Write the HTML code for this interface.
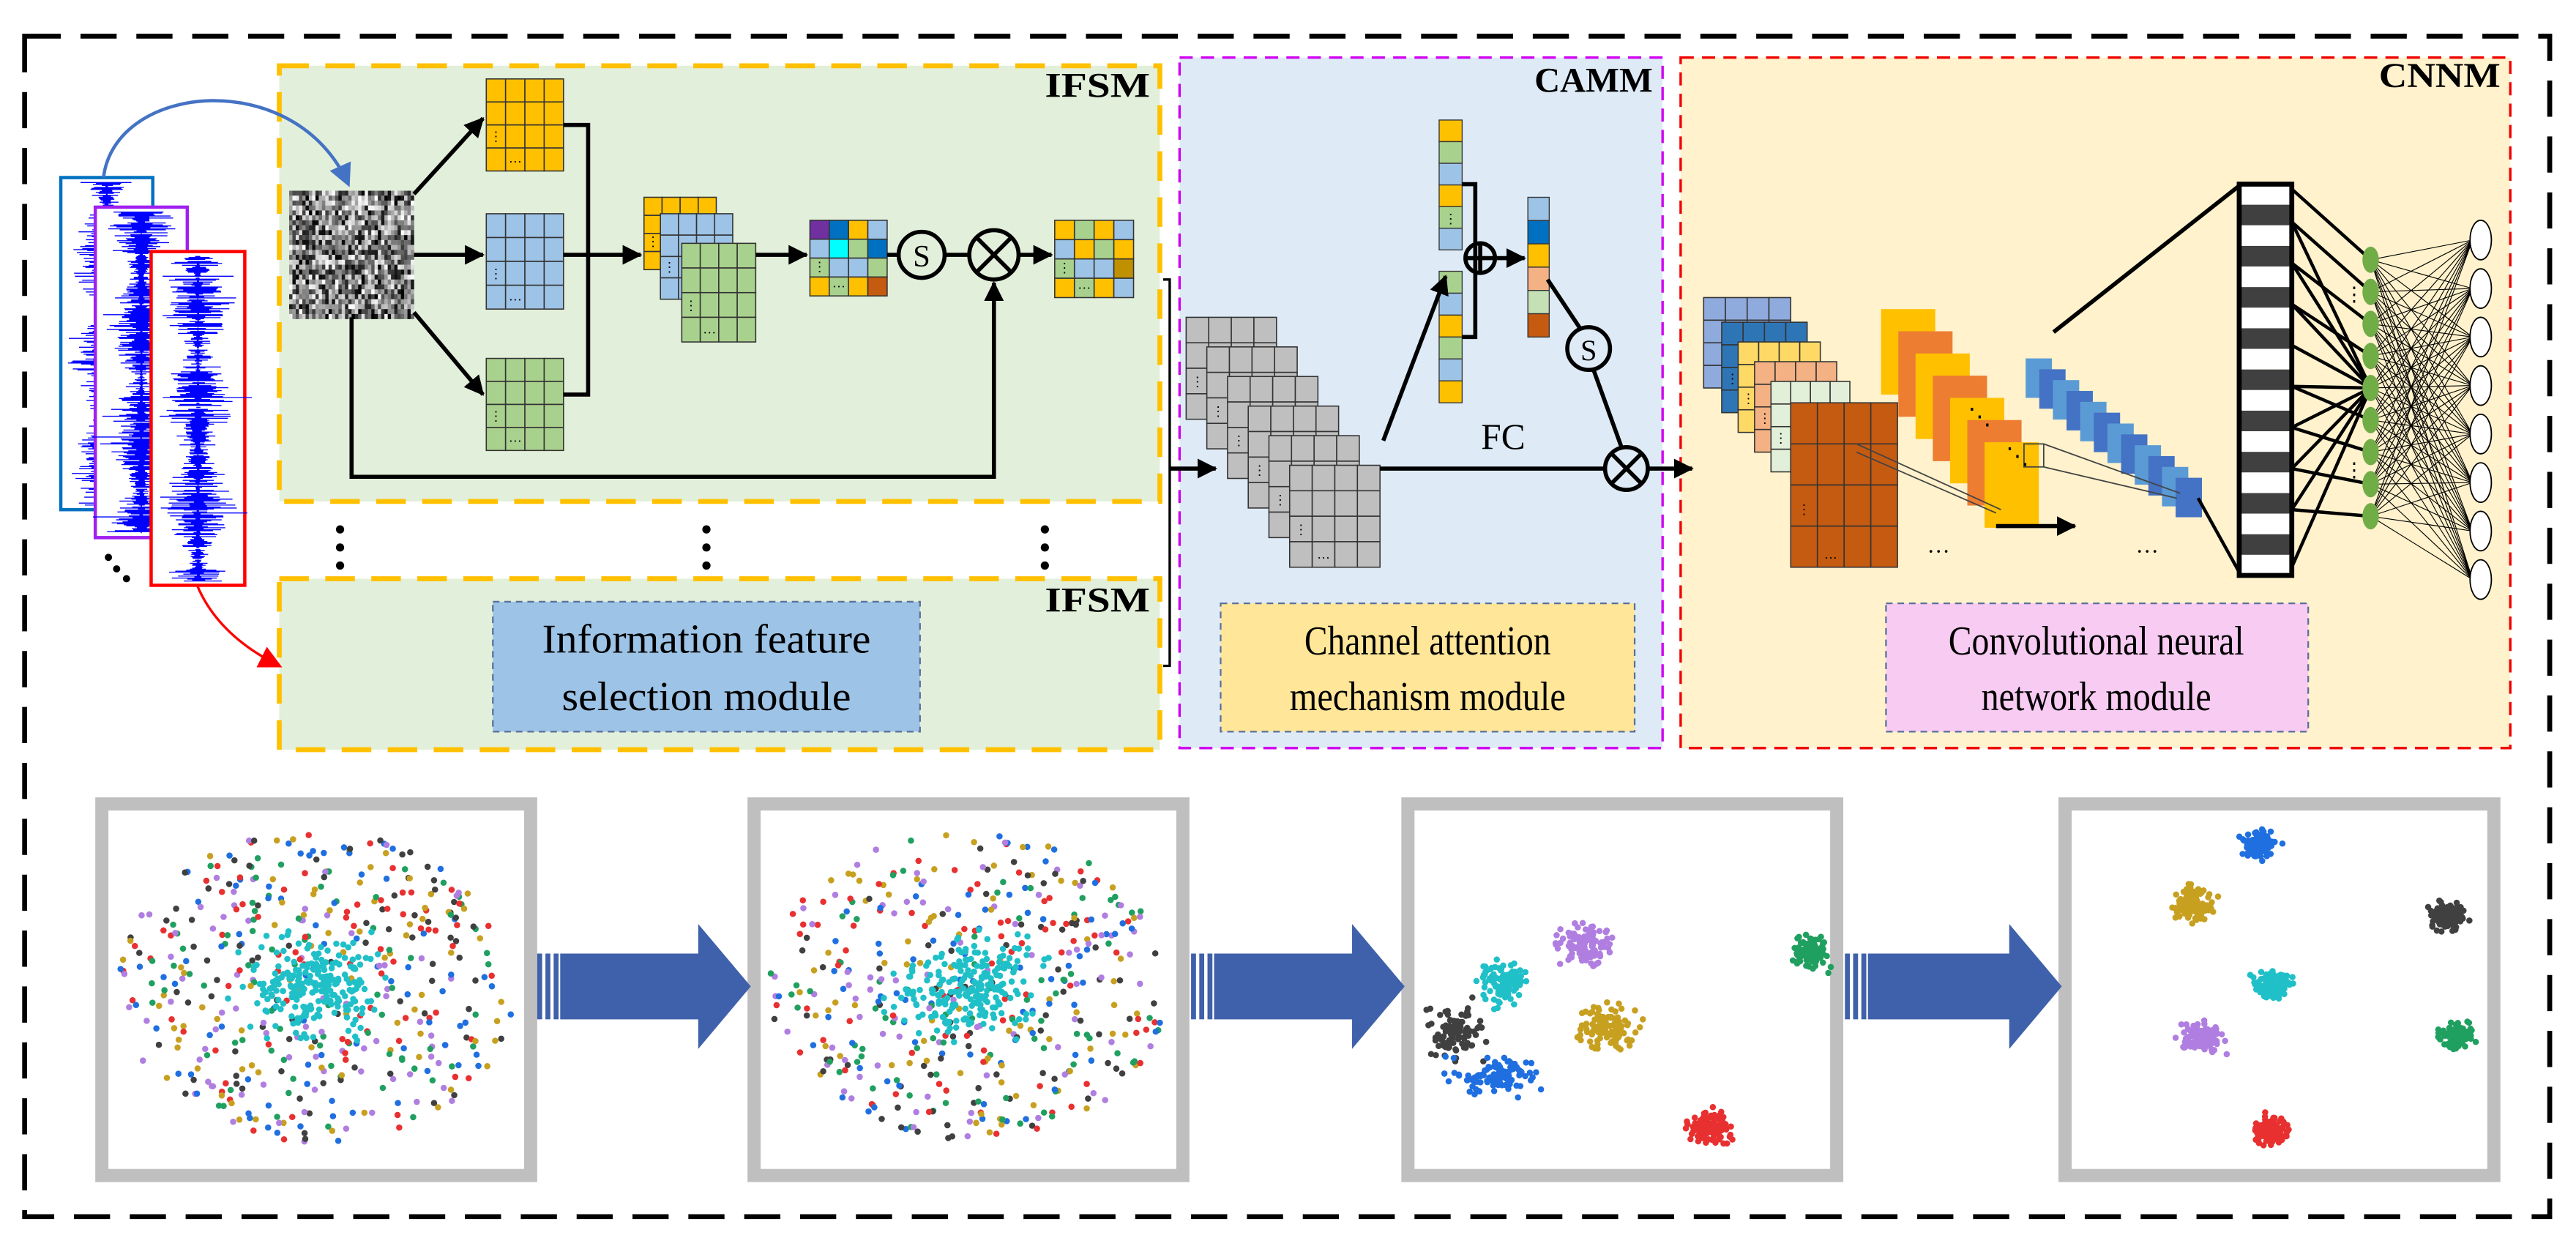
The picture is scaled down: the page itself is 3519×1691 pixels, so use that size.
<!DOCTYPE html>
<html><head><meta charset="utf-8"><style>
html,body{margin:0;padding:0;background:#fff}
svg{display:block}
svg text{font-family:"Liberation Serif",serif}
</style></head><body>
<svg id="s" xmlns="http://www.w3.org/2000/svg" width="3519" height="1691" viewBox="0 0 1568 753" preserveAspectRatio="none" font-family="Liberation Serif, serif">
<defs>
<marker id="ah" markerWidth="8" markerHeight="8" refX="7" refY="4" orient="auto" markerUnits="userSpaceOnUse"><path d="M0,0 L8,4 L0,8z" fill="#000"/></marker>
<marker id="ahL" markerWidth="12" markerHeight="12" refX="11" refY="6" orient="auto" markerUnits="userSpaceOnUse"><path d="M0,0 L12,6 L0,12z" fill="#000"/></marker>
<marker id="ahB" markerWidth="14" markerHeight="14" refX="12" refY="7" orient="auto" markerUnits="userSpaceOnUse"><path d="M0,0 L14,7 L0,14z" fill="#4472c4"/></marker>
<marker id="ahR" markerWidth="14" markerHeight="14" refX="12" refY="7" orient="auto" markerUnits="userSpaceOnUse"><path d="M0,0 L14,7 L0,14z" fill="#f00"/></marker>
</defs>
<rect x="15" y="22" width="1537" height="718" fill="none" stroke="#000" stroke-width="3" stroke-dasharray="22,12"/>
<rect x="170" y="40" width="536" height="265" fill="#e2efda" stroke="#ffc000" stroke-width="3" stroke-dasharray="18,10"/>
<rect x="170" y="352" width="536" height="104" fill="#e2efda" stroke="#ffc000" stroke-width="3" stroke-dasharray="18,10"/>
<rect x="718" y="35" width="294" height="420" fill="#deebf7" stroke="#d000f0" stroke-width="1.5" stroke-dasharray="8,5"/>
<rect x="1023" y="35" width="505" height="420" fill="#fff2cc" stroke="#f00000" stroke-width="1.5" stroke-dasharray="8,5"/>
<g font-family="Liberation Serif, serif" font-weight="bold" font-size="21" text-anchor="end">
<text x="700" y="59" textLength="64" lengthAdjust="spacingAndGlyphs">IFSM</text>
<text x="700" y="372" textLength="64" lengthAdjust="spacingAndGlyphs">IFSM</text>
<text x="1006" y="56" textLength="72" lengthAdjust="spacingAndGlyphs">CAMM</text>
<text x="1522" y="53" textLength="74" lengthAdjust="spacingAndGlyphs">CNNM</text>
</g>
<rect x="300" y="366" width="260" height="79" fill="#9dc3e6" stroke="#5a6f9a" stroke-width="1" stroke-dasharray="4,3"/>
<rect x="743" y="367" width="252" height="78" fill="#ffe699" stroke="#5a6f9a" stroke-width="1" stroke-dasharray="4,3"/>
<rect x="1148" y="367" width="257" height="78" fill="#f8cbf2" stroke="#5a6f9a" stroke-width="1" stroke-dasharray="4,3"/>
<g font-family="Liberation Serif, serif" font-size="25" text-anchor="middle">
<text x="430" y="397" textLength="200" lengthAdjust="spacingAndGlyphs">Information feature</text>
<text x="430" y="432" textLength="176" lengthAdjust="spacingAndGlyphs">selection module</text>
<text x="869" y="398" textLength="150" lengthAdjust="spacingAndGlyphs">Channel attention</text>
<text x="869" y="432" textLength="168" lengthAdjust="spacingAndGlyphs">mechanism module</text>
<text x="1276" y="398" textLength="180" lengthAdjust="spacingAndGlyphs">Convolutional neural</text>
<text x="1276" y="432" textLength="140" lengthAdjust="spacingAndGlyphs">network module</text>
</g>
<g id="dyn"></g>
<g stroke="#000" stroke-width="2.5" fill="none">
<line x1="252" y1="118" x2="294" y2="72" marker-end="url(#ahL)"/>
<line x1="252" y1="155" x2="294" y2="155" marker-end="url(#ahL)"/>
<line x1="252" y1="190" x2="294" y2="240" marker-end="url(#ahL)"/>
<polyline points="343,76 358,76 358,240 343,240"/>
<line x1="343" y1="155" x2="390" y2="155" marker-end="url(#ahL)"/>
<line x1="460" y1="155" x2="491" y2="155" marker-end="url(#ahL)"/>
<line x1="540" y1="155" x2="547" y2="155"/>
<line x1="575" y1="155" x2="590" y2="155"/>
<line x1="620" y1="155" x2="640" y2="155" marker-end="url(#ahL)"/>
<polyline points="214,193 214,290 605,290 605,172" marker-end="url(#ahL)"/>
<polyline points="708,170 712,170 712,405 708,405" stroke-width="1.5"/>
<line x1="712" y1="285" x2="740" y2="285" marker-end="url(#ahL)"/>
<circle cx="561" cy="155" r="14"/>
<circle cx="605" cy="155" r="15"/>
<line x1="594" y1="144" x2="616" y2="166"/><line x1="616" y1="144" x2="594" y2="166"/>
</g>
<text x="561" y="162" text-anchor="middle" font-size="19" font-family="Liberation Serif, serif">S</text>
<g fill="#000">
<circle cx="207" cy="322" r="2.5"/><circle cx="207" cy="333" r="2.5"/><circle cx="207" cy="344" r="2.5"/>
<circle cx="430" cy="322" r="2.5"/><circle cx="430" cy="333" r="2.5"/><circle cx="430" cy="344" r="2.5"/>
<circle cx="636" cy="322" r="2.5"/><circle cx="636" cy="333" r="2.5"/><circle cx="636" cy="344" r="2.5"/>
<circle cx="66" cy="339" r="2.2"/><circle cx="71" cy="346" r="2.2"/><circle cx="77" cy="352" r="2.2"/>
</g>
<path d="M63,108 C70,50 180,40 212,112" fill="none" stroke="#4472c4" stroke-width="2" marker-end="url(#ahB)"/>
<path d="M120,356 C130,380 150,395 170,405" fill="none" stroke="#f00" stroke-width="1.5" marker-end="url(#ahR)"/>
<g stroke="#000" stroke-width="2.5" fill="none">
<line x1="842" y1="268" x2="880" y2="168" marker-end="url(#ahL)"/>
<polyline points="890,112 898,112 898,205 890,205"/>
<circle cx="901" cy="157" r="9"/>
<line x1="892" y1="157" x2="910" y2="157"/><line x1="901" y1="148" x2="901" y2="166"/>
<line x1="910" y1="157" x2="928" y2="157" marker-end="url(#ahL)"/>
<line x1="942" y1="170" x2="962" y2="200"/>
<line x1="970" y1="225" x2="987" y2="272"/>
<line x1="840" y1="285" x2="977" y2="285"/>
<line x1="1003" y1="285" x2="1030" y2="285" marker-end="url(#ahL)"/>
<circle cx="967" cy="212" r="13"/>
<circle cx="990" cy="285" r="13"/>
<line x1="981" y1="276" x2="999" y2="294"/><line x1="999" y1="276" x2="981" y2="294"/>
</g>
<text x="967" y="219" text-anchor="middle" font-size="18" font-family="Liberation Serif, serif">S</text>
<text x="915" y="273" text-anchor="middle" font-size="22" font-family="Liberation Serif, serif">FC</text>
<line x1="1215" y1="320" x2="1263" y2="320" stroke="#000" stroke-width="2.5" marker-end="url(#ahL)"/>
<text x="1180" y="340" text-anchor="middle" font-size="14">···</text>
<text x="1307" y="340" text-anchor="middle" font-size="14">···</text>
<g fill="#fff" stroke="#bfbfbf" stroke-width="8">
<rect x="62" y="489" width="261" height="226"/>
<rect x="459" y="489" width="261" height="226"/>
<rect x="857" y="489" width="261" height="226"/>
<rect x="1257" y="489" width="261" height="226"/>
</g>
<g id="pts"></g>
<g fill="#3f60aa" id="barr"></g>
</svg>
<script>
var NS="http://www.w3.org/2000/svg",dyn=document.getElementById('dyn'),pts=document.getElementById('pts');
var seed=7;function r(){seed=(seed*16807)%2147483647;return seed/2147483647;}
function gn(){return (r()+r()+r()+r()-2)/1.2;}
function el(t,a,p){var e=document.createElementNS(NS,t);for(var k in a)e.setAttribute(k,a[k]);(p||dyn).appendChild(e);return e;}
function txt(x,y,s,sz,p){var e=el('text',{x:x,y:y,'font-size':sz,'text-anchor':'middle'},p);e.textContent=s;}
function grid(x,y,w,h,c,rw,cols,dots){
 var cw=w/c,ch=h/rw;
 for(var i=0;i<rw;i++)for(var j=0;j<c;j++){
  var col=typeof cols=='string'?cols:cols[i*c+j];
  el('rect',{x:x+j*cw,y:y+i*ch,width:cw,height:ch,fill:col,stroke:'#333','stroke-width':0.7});
 }
 if(dots){txt(x+cw*0.5,y+ch*2.7,'⋮',8);txt(x+cw*1.5,y+h-3,'···',8);}
}
function signal(x,y,w,h,stroke,seedv){
 el('rect',{x:x,y:y,width:w,height:h,fill:'#fff',stroke:stroke,'stroke-width':2});
 var d='',cx=x+w/2;
 for(var yy=y+3;yy<y+h-2;yy+=0.6){
  var a=(0.25+0.75*Math.abs(Math.sin(yy*0.05+seedv)))*w*0.38*(r()<0.08?1.4:1)*r();
  d+='M'+(cx-a*(0.6+r()*0.6)).toFixed(1)+','+yy.toFixed(1)+'H'+(cx+a*(0.6+r()*0.6)).toFixed(1);
 }
 el('path',{d:d,stroke:'#0000ff','stroke-width':0.6,fill:'none'});
}
signal(37,108,56,202,'#0070c0',0);
signal(58,126,56,201,'#a020f0',1);
signal(92,153,57,203,'#ff0000',2);
for(var i=0;i<38;i++)for(var j=0;j<26;j++){var g=Math.floor(r()*255);el('rect',{x:176+i*2,y:116+j*3,width:2.1,height:3.1,fill:'rgb('+g+','+g+','+g+')'});}
var O='#ffc000',B='#9dc3e6',G='#a9d18e';
grid(296,48,47,56,4,4,O,1);
grid(296,130,47,58,4,4,B,1);
grid(296,218,47,56,4,4,G,1);
grid(392,120,44,44,4,4,O,1);
grid(402,130,44,52,4,4,B,1);
grid(415,148,45,60,4,4,G,1);
grid(493,134,47,46,4,4,['#7030a0','#0070c0',O,B,B,'#00ffff',G,'#0070c0',G,B,B,G,O,G,O,'#c55a11'],1);
grid(642,134,48,47,4,4,[O,G,O,B,B,O,G,O,G,B,B,'#bf9000',O,G,O,B],1);
for(var k=0;k<6;k++)grid(722+12.6*k,193+18*k,55,62,4,4,'#bfbfbf',1);
function vbar(x,y,w,h,cols){var ch=h/cols.length;for(var i=0;i<cols.length;i++){el('rect',{x:x,y:y+i*ch,width:w,height:ch,fill:cols[i],stroke:'#333','stroke-width':0.6});if(cols[i]==G&&i==4)txt(x+w/2,y+i*ch+ch-3,'⋮',8);}}
vbar(876,73,14,79,[O,G,B,O,G,B]);
vbar(876,165,14,80,[G,B,O,G,B,O]);
vbar(930,120,13,85,[B,'#0070c0',O,'#f4b183','#c5e0b4','#c55a11']);
grid(1037,181,53,55,4,4,'#8faadc',0);
grid(1048,196,52,55,4,4,'#2e75b6',1);
grid(1058,208,50,55,4,4,'#ffd966',1);
grid(1068,220,50,55,4,4,'#f4b183',1);
grid(1078,232,48,55,4,4,'#e2f0d9',1);
grid(1090,245,65,100,4,4,'#c55a11',1);
for(var k=0;k<7;k++)el('rect',{x:1145+k*10.5,y:188+k*13.5,width:33,height:52,fill:k%2?'#ed7d31':'#ffc000'});
el('rect',{x:1232,y:270,width:12,height:14,fill:'none',stroke:'#444','stroke-width':0.8});
for(var k=0;k<12;k++)el('rect',{x:1233+k*8.3,y:218+k*6.6,width:16,height:24,fill:k%2?'#4472c4':'#5b9bd5'});
el('path',{d:'M1130,270 L1218,310 M1130,275 L1215,312 M1244,270 L1327,300 M1244,284 L1325,303',stroke:'#444','stroke-width':0.8,fill:'none'});
txt(1205,258,'⋱',14);txt(1228,282,'⋱',14);
var by=112,bh=238,n=19;
for(var i=0;i<n;i++)el('rect',{x:1363,y:by+i*bh/n,width:32,height:bh/n,fill:i%2?'#404040':'#fff'});
el('rect',{x:1363,y:by,width:32,height:bh,fill:'none',stroke:'#000','stroke-width':3});
el('line',{x1:1363,y1:113,x2:1250,y2:202,stroke:'#000','stroke-width':2.5});
el('line',{x1:1363,y1:348,x2:1338,y2:303,stroke:'#000','stroke-width':2});
var gy=[],oy=[];for(var i=0;i<9;i++)gy.push(158+i*19.5);for(var i=0;i<8;i++)oy.push(146+i*29.5);
var lp='';
var bys=[115,135,160,185,210,235,260,285,310,345];
for(var i=0;i<gy.length;i++){lp+='M1395,'+bys[Math.min(i,9)]+'L1443,'+gy[i];lp+='M1395,'+bys[Math.min(i+1,9)]+'L1443,'+gy[4];}
el('path',{d:lp,stroke:'#000','stroke-width':2,fill:'none'});
var tp='';for(var i=0;i<gy.length;i++)for(var j=0;j<oy.length;j++)tp+='M1443,'+gy[i]+'L1505,'+oy[j];
el('path',{d:tp,stroke:'#000','stroke-width':0.5,fill:'none'});
for(var i=0;i<gy.length;i++)el('ellipse',{cx:1443,cy:gy[i],rx:5,ry:8,fill:'#70ad47'});
for(var j=0;j<oy.length;j++)el('ellipse',{cx:1510,cy:oy[j],rx:6.5,ry:12,fill:'#fff',stroke:'#000','stroke-width':0.8});
txt(1433,183,'⋮',12);txt(1433,290,'⋮',12);
var C={b:'#1f6fe0',g:'#c8a020',k:'#404040',p:'#b07ee0',r:'#e83030',c:'#20c0c8',n:'#20a060'};
function pt(x,y,c){el('circle',{cx:x.toFixed(1),cy:y.toFixed(1),r:1.9,fill:c},pts);}
function diffuse(cx,cy){
 var ks=['b','g','k','p','r','n'];
 for(var i=0;i<480;i++){var a=r()*6.283,d=Math.sqrt(r());var x=cx+Math.cos(a)*d*122,y=cy+Math.sin(a)*d*95;pt(x,y,C[ks[i%6]]);}
 for(var i=0;i<230;i++){pt(cx+gn()*40,cy+gn()*30,C.c);}
}
diffuse(192,600);diffuse(590,600);
function cl(x,y,sx,sy,c,n){for(var i=0;i<(n||110);i++)pt(x+gn()*sx,y+gn()*sy,C[c]);}
cl(1103,580,10,10,'n');cl(1040,686,14,10,'r');cl(915,598,13,13,'c');cl(965,575,16,13,'p');cl(978,625,18,13,'g');cl(885,628,15,15,'k');cl(910,655,24,11,'b');
cl(1375,514,11,8,'b');cl(1335,550,12,10,'g');cl(1490,557,11,8,'k');cl(1383,600,11,8,'c');cl(1340,632,12,9,'p');cl(1495,630,10,9,'n');cl(1382,688,11,9,'r');
var ba=document.getElementById('barr');
[[327,457],[725,855],[1123,1255]].forEach(function(q){
 var x0=q[0],x1=q[1],hx=x1-32;
 el('path',{d:'M'+(x0+14)+',580 H'+hx+' V562 L'+x1+',600 L'+hx+',638 V620 H'+(x0+14)+'Z'},ba);
 for(var k=0;k<3;k++)el('rect',{x:x0+k*5,y:580,width:3,height:40},ba);
});
</script>
</body></html>
